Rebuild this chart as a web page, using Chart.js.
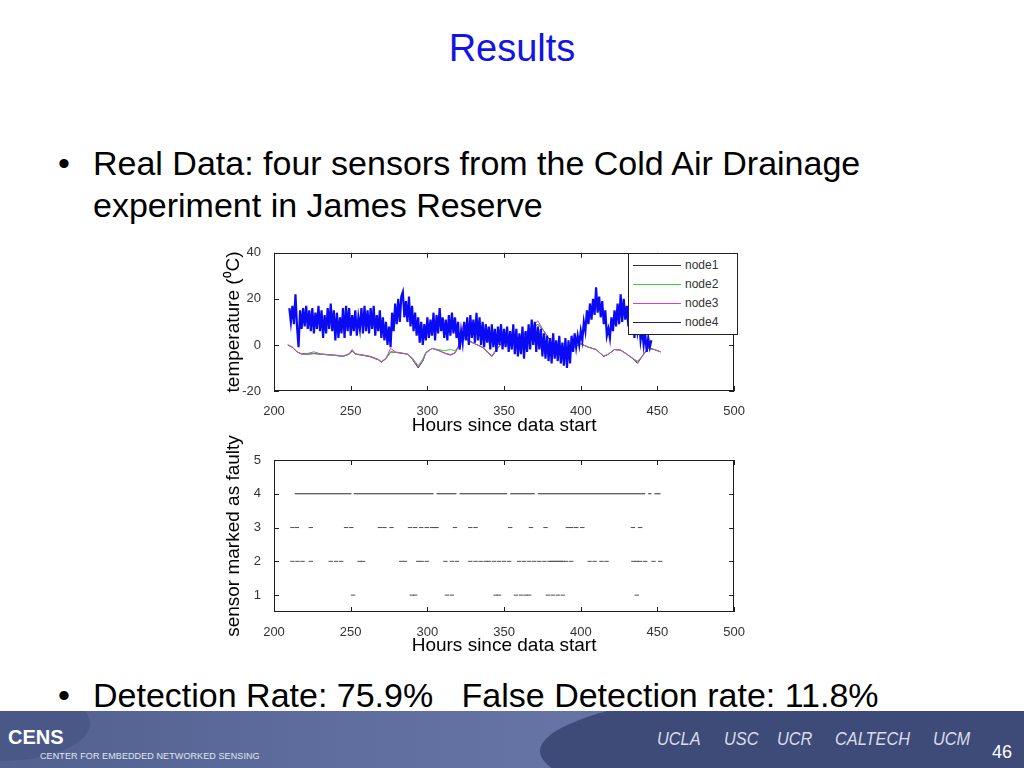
<!DOCTYPE html>
<html lang="en">
<head>
<meta charset="UTF-8">
<title>Results</title>
<script src="https://cdn.jsdelivr.net/npm/chart.js@4.4.0/dist/chart.umd.min.js"></script>
<style>
  body { margin:0; width:1024px; height:768px; overflow:hidden; background:#fff;
         font-family:"Liberation Sans", Arial, sans-serif; position:relative; }
  .abs { position:absolute; }
  .title { left:0; width:1024px; top:25px; text-align:center; font-size:38px; line-height:46px; color:#1414e6; }
  .txt { font-size:34px; line-height:42px; color:#000; white-space:pre; }
  .legend { left:628px; top:253px; width:108px; height:80px; border:1px solid #222; background:#fff; z-index:5; }
  .legend div { position:absolute; left:0; height:19px; width:108px; }
  .legend span.ln { position:absolute; left:4px; top:9px; width:48px; height:1px; }
  .legend span.lb { position:absolute; left:56px; top:2px; font-size:12px; color:#333; }
  #footer { left:0; top:711px; width:1024px; height:57px; overflow:hidden;
            background:linear-gradient(90deg,#51608f 0%,#5f6e9e 35%,#6574a4 55%,#5a699a 100%); }
  .ellR { left:540px; top:-40px; width:1000px; height:160px; border-radius:50%; background:#3e4b79; }
  .ellL { left:-90px; top:-25px; width:180px; height:75px; border-radius:50%; background:#4a5887; }
  .uni { top:17px; font-size:19px; font-style:italic; color:#d9dce8; transform:scaleX(0.86); transform-origin:left; }
</style>
</head>
<body>
<div class="abs title">Results</div>
<div class="abs txt" style="left:58px;top:142px;">•</div>
<div class="abs txt" style="left:93px;top:142px;">Real Data: four sensors from the Cold Air Drainage</div>
<div class="abs txt" style="left:93px;top:184px;">experiment in James Reserve</div>
<div class="abs txt" style="left:58px;top:674px;">•</div>
<div class="abs txt" style="left:93px;top:674px;">Detection Rate: 75.9%   False Detection rate: 11.8%</div>

<div class="abs" style="left:220px;top:240px;width:530px;height:200px;"><canvas id="tempChart"></canvas></div>
<div class="abs" style="left:220px;top:425px;width:530px;height:235px;"><canvas id="faultChart"></canvas></div>

<div class="abs legend">
  <div style="top:2px"><span class="ln" style="background:#333"></span><span class="lb">node1</span></div>
  <div style="top:21px"><span class="ln" style="background:#33d633"></span><span class="lb">node2</span></div>
  <div style="top:40px"><span class="ln" style="background:#cc44cc"></span><span class="lb">node3</span></div>
  <div style="top:59px"><span class="ln" style="background:#20205e"></span><span class="lb">node4</span></div>
</div>

<div class="abs" id="footer">
  <div class="abs ellL"></div>
  <div class="abs ellR"></div>
  <div class="abs" style="left:8px;top:15px;font-size:20px;font-weight:bold;color:#fff;">CENS</div>
  <div class="abs" style="left:40px;top:40px;font-size:9px;color:#e2e5ef;letter-spacing:0.1px;">CENTER FOR EMBEDDED NETWORKED SENSING</div>
  <div class="abs uni" style="left:657px;">UCLA</div>
  <div class="abs uni" style="left:724px;">USC</div>
  <div class="abs uni" style="left:777px;">UCR</div>
  <div class="abs uni" style="left:835px;">CALTECH</div>
  <div class="abs uni" style="left:933px;">UCM</div>
  <div class="abs" style="left:992px;top:31px;font-size:18px;color:#fff;">46</div>
</div>

<script>
// ---- top plot: temperatures ----
const xTicks = [200, 250, 300, 350, 400, 450, 500];
const tempTicks = [-20, 0, 20, 40];

const nodeHours = [209,212,215,218,222,226,230,235,240,245, 249,251,253,258,263,268,270,273,276,279,
                   283,287,290,294,297,299,303,307,311,315, 318,320,323.5,326,331,336,342,348,355,362,
                   368,372,376,382,388,393,400,405,410,415, 418,422,426,430,434,437,440,444,448,452];
const node1Temp = [0,-1,-3,-4,-4,-3.7,-4,-4.3,-4.5,-5, -4,-2.5,-4,-4.5,-5.2,-6.5,-7.5,-6,-3,-3.2,
                   -3.6,-4,-6,-10,-7,-3.5,-1.5,-2.3,-3.5,-4.4, -3.5,-1,6,2,0.5,-1,-5,0.5,2,4,
                   7,9,6,0,-4,-2,0.5,-1,-2,-5, -4,-2,-2.3,-4,-6,-8,-5,-1.5,-2,-3];
const node2Temp = [0,-1,-3,-4,-4,-3.8,-4,-4.2,-4.6,-5, -4,-2.8,-4,-4.4,-5,-6.3,-7.2,-6,-3.2,-3.2,
                   -3.5,-4,-5.5,-9,-6,-3.2,-1.5,-2,-2.5,-2, -2.5,-1,6,2,0.5,-1,-4.6,0.5,2,4,
                   7,9,6,0,-4,-2,0.5,-1,-2,-4.8, -4,-2,-2.2,-4,-5.8,-7,-5,-1.5,-2,-3];
const node3Temp = [0,-1,-3,-3.8,-3.7,-3,-3.8,-4.2,-4.4,-4.8, -3.8,-2,-3.8,-4.4,-5,-6.3,-7.3,-5.8,-1.5,-3,
                   -3.5,-4,-6,-9.5,-7,-3.5,-1.5,-2.3,-3.5,-4.2, -3.5,-1,9,2.5,0.5,-1,-4.8,0.5,2,4,
                   7.5,10.5,6,0,-4,-2,0.5,-1,-2,-5, -4,-2,-2.3,-4,-6,-7.5,-5,-1,-2,-3];

// node4: one reading per hour starting at hour 210
const node4Start = 210;
const node4Temp = [
  16,10,17,9,22,8,-1,15,7,16,     // 210
  8,17,7,15,6,16,5,14,7,17,       // 220
  6,15,3,13,5,16,7,18,6,15,       // 230
  2,14,3,12,5,16,3,17,6,16,       // 240
  4,13,6,15,4,12,7,16,5,17,       // 250
  6,15,5,16,7,17,4,13,6,15,       // 260
  3,12,2,10,0,8,-1,14,6,18,       // 270
  9,20,10,21,23,12,19,10,21,8,    // 280
  17,6,14,4,12,1,10,0,9,2,        // 290
  12,3,11,4,14,2,13,5,16,6,       // 300
  12,3,11,2,13,4,14,5,12,3,       // 310
  10,-2,6,1,10,2,12,0,13,3,       // 320
  11,1,14,2,12,0,10,-1,9,1,       // 330
  8,-2,9,-1,7,-3,8,0,9,-2,        // 340
  7,-1,8,-3,6,-2,9,-4,7,-5,       // 350
  5,-4,8,-6,6,-3,9,-2,11,0,       // 360
  10,-3,8,-2,7,-5,5,-6,4,-7,      // 370
  3,-8,5,-6,2,-7,4,-8,1,-9,       // 380
  3,-10,2,-8,4,-3,5,-1,4,0,       // 390
  6,2,10,6,15,9,18,11,20,13,      // 400
  25,14,21,12,19,9,15,4,7,3,      // 410
  12,6,15,8,18,9,22,10,20,11,     // 420
  17,8,15,5,12,3,14,6,11,2,       // 430
  7,0,5,-3,3,-1,2                 // 440
];

// ---- bottom plot: sensor flagged as faulty ----
const faultTicks = [1, 2, 3, 4, 5];
const seg4Start = [213.5, 252, 306, 321, 354, 372, 444, 448];
const seg4End   = [250.5, 304, 319, 352, 370, 442, 446, 452];
const fault3Hours = [212,214.9,224,247,250.4,269,272,276.6,288.7,292,296,299.6,303,305,306,318,328,331.4,
                     354,367.5,377,391.6,393.8,397,401,434,438.7];
const fault2Hours = [212,215.3,218.6,224,237,240.5,243.8,255.8,258,283,285.4,294,296.3,299.6,311.7,316,319.3,
                     328,331.4,334.7,338,340,343.4,346.7,350,353.3,359.8,363,366.4,369.7,373,376.3,
                     379.6,381,382.5,384,385.5,387,388.3,390.5,393.8,405.8,409,413.5,416.8,
                     434.3,436.5,438.7,442,447.4,451.8];
const fault1Hours = [251.5,289.8,292,312.8,316,344.5,346.7,357.7,361,364,366.4,378.5,381.7,385,388.3,436.5];

function toPoints(xs, ys) { return xs.map((x, i) => ({x: x, y: ys[i]})); }

const boxPlugin = {
  id: 'matlabBox',
  afterDatasetsDraw(chart) {
    const {ctx, chartArea: a, scales: {x, y}} = chart;
    ctx.save();
    ctx.strokeStyle = '#1e1e1e';
    ctx.lineWidth = 1;
    ctx.beginPath();
    x.ticks.forEach(t => {
      const px = Math.round(x.getPixelForValue(t.value)) + 0.5;
      ctx.moveTo(px, a.bottom); ctx.lineTo(px, a.bottom - 5);
      ctx.moveTo(px, a.top); ctx.lineTo(px, a.top + 5);
    });
    y.ticks.forEach(t => {
      const py = Math.round(y.getPixelForValue(t.value)) + 0.5;
      ctx.moveTo(a.left, py); ctx.lineTo(a.left + 5, py);
      ctx.moveTo(a.right, py); ctx.lineTo(a.right - 5, py);
    });
    ctx.stroke();
    ctx.strokeRect(Math.round(a.left) + 0.5, Math.round(a.top) + 0.5, Math.round(a.width) - 1, Math.round(a.height) - 1);
    ctx.restore();
  }
};

const tickFont = {family: '"Liberation Sans", Arial, sans-serif', size: 13};
const titleFont = {family: '"Liberation Sans", Arial, sans-serif', size: 19};

function axisX(height) {
  return {
    type: 'linear', min: 200, max: 500,
    afterBuildTicks: s => { s.ticks = xTicks.map(v => ({value: v})); },
    afterFit: s => { s.height = height; },
    grid: {display: false}, border: {display: false},
    ticks: {color: '#333', font: tickFont, padding: 5, maxRotation: 0},
    title: {display: true, text: 'Hours since data start', color: '#000', font: titleFont, padding: {top: 0, bottom: 3}}
  };
}
function axisY(min, max, ticks, label) {
  return {
    min: min, max: max,
    afterBuildTicks: s => { s.ticks = ticks.map(v => ({value: v})); },
    afterFit: s => { s.width = 54; },
    grid: {display: false}, border: {display: false},
    ticks: {color: '#333', font: tickFont, padding: 5},
    title: {display: true, text: label, color: '#000', font: titleFont, padding: {top: 2, bottom: 0}}
  };
}

new Chart(document.getElementById('tempChart'), {
  type: 'line',
  data: {
    datasets: [
      {label: 'node1', data: toPoints(nodeHours, node1Temp), borderColor: '#3a3a3a', order: 3},
      {label: 'node2', data: toPoints(nodeHours, node2Temp), borderColor: '#2ecc2e', order: 2},
      {label: 'node3', data: toPoints(nodeHours, node3Temp), borderColor: '#d040d0', order: 1},
      {label: 'node4', data: node4Temp.map((v, i) => ({x: node4Start + i, y: v})), borderColor: '#0a0af5', borderWidth: 2.2, order: 0}
    ]
  },
  options: {
    animation: false, responsive: true, maintainAspectRatio: false,
    elements: {point: {radius: 0}, line: {borderWidth: 1, tension: 0}},
    layout: {padding: {top: 8, right: 12, left: 0, bottom: 0}},
    plugins: {legend: {display: false}, tooltip: {enabled: false}},
    scales: {x: axisX(49), y: axisY(-20, 40, tempTicks, 'temperature (\u2070C)')}
  },
  plugins: [boxPlugin]
});

const seg4Points = [];
seg4Start.forEach((s, i) => {
  seg4Points.push({x: s, y: 4}, {x: seg4End[i], y: 4}, {x: seg4End[i], y: null});
});
const dotStyle = {pointStyle: 'line', pointRadius: 2.2, borderColor: '#505050', pointBorderWidth: 1, showLine: false};

new Chart(document.getElementById('faultChart'), {
  type: 'scatter',
  data: {
    datasets: [
      {label: 'sensor 4', data: seg4Points, showLine: true, spanGaps: false, borderColor: '#2a2a2a', borderWidth: 1, pointRadius: 0},
      Object.assign({label: 'sensor 3', data: fault3Hours.map(h => ({x: h, y: 3}))}, dotStyle),
      Object.assign({label: 'sensor 2', data: fault2Hours.map(h => ({x: h, y: 2}))}, dotStyle),
      Object.assign({label: 'sensor 1', data: fault1Hours.map(h => ({x: h, y: 1}))}, dotStyle)
    ]
  },
  options: {
    animation: false, responsive: true, maintainAspectRatio: false,
    layout: {padding: {top: 35, right: 12, left: 0, bottom: 0}},
    plugins: {legend: {display: false}, tooltip: {enabled: false}},
    scales: {x: axisX(48), y: axisY(0.5, 5, faultTicks, 'sensor marked as faulty')}
  },
  plugins: [boxPlugin]
});
</script>
</body>
</html>
